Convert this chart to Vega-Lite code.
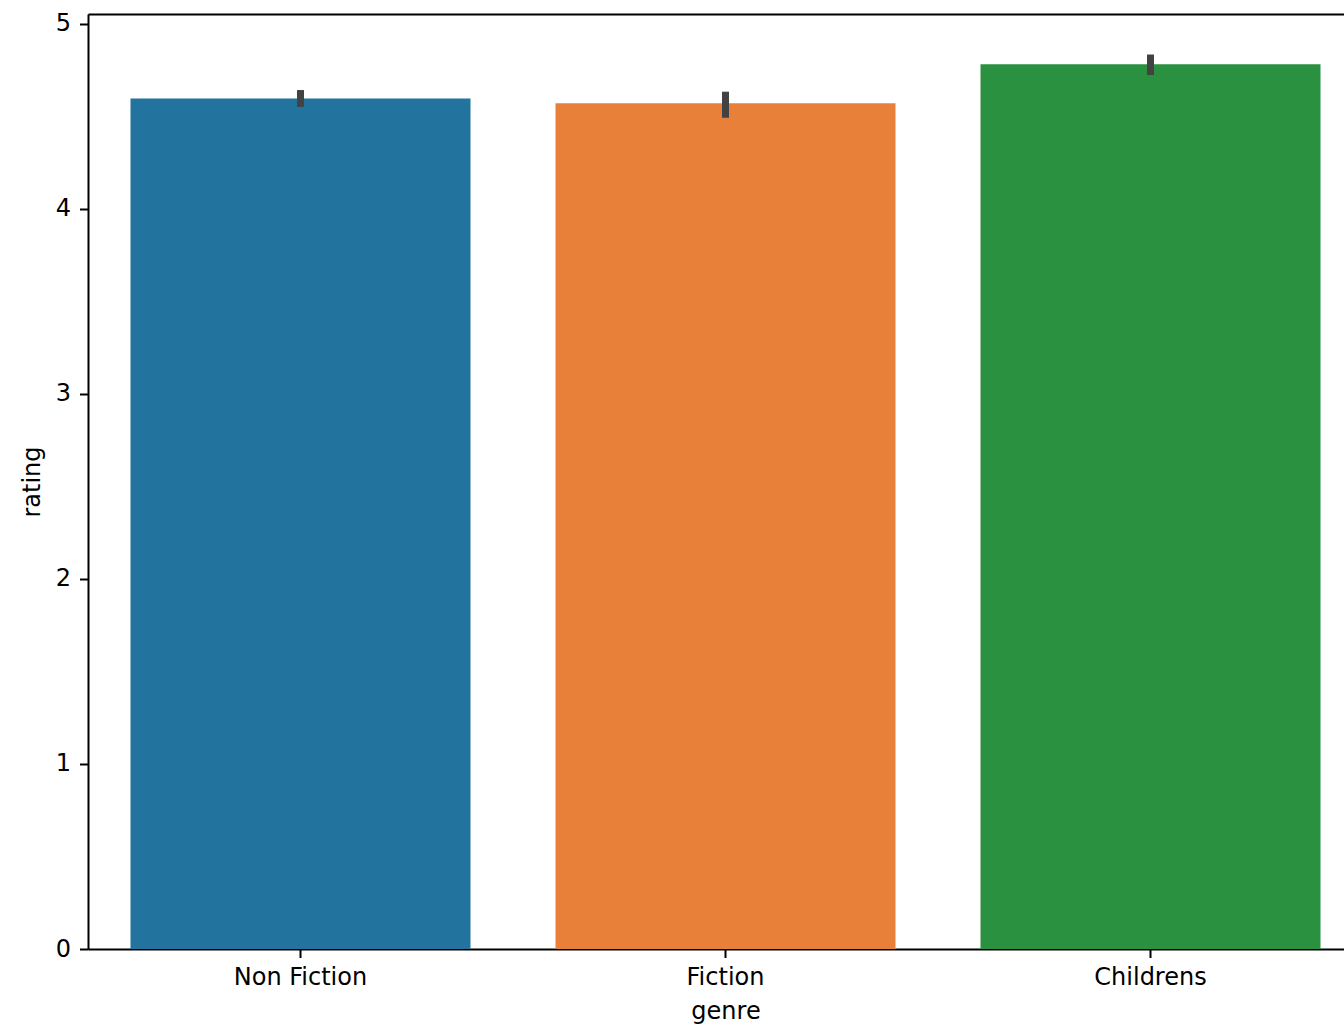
{
  "$schema": "https://vega.github.io/schema/vega-lite/v6.json",
  "autosize": "none",
  "padding": {"left": 88, "top": 14, "right": 0, "bottom": 76},
  "width": 1256,
  "height": 935,
  "background": "white",
  "config": {
    "font": "DejaVu Sans",
    "view": {"stroke": null},
    "axis": {
      "grid": false,
      "domainColor": "black",
      "domainWidth": 2,
      "tickColor": "black",
      "tickWidth": 2,
      "tickSize": 8.5,
      "labelFont": "DejaVu Sans",
      "labelFontSize": 24,
      "labelColor": "black",
      "titleFont": "DejaVu Sans",
      "titleFontSize": 24,
      "titleFontWeight": "normal",
      "titleColor": "black"
    }
  },
  "data": {
    "values": [
      {"genre": "Non Fiction", "rating": 4.597, "ci_low": 4.552, "ci_high": 4.643},
      {"genre": "Fiction", "rating": 4.571, "ci_low": 4.493, "ci_high": 4.634},
      {"genre": "Childrens", "rating": 4.782, "ci_low": 4.724, "ci_high": 4.835}
    ]
  },
  "layer": [
    {
      "mark": {"type": "bar"},
      "encoding": {
        "x": {
          "field": "genre",
          "type": "nominal",
          "sort": null,
          "scale": {"range": [0, 1275], "paddingInner": 0.2, "paddingOuter": 0.1},
          "axis": {"labelAngle": 0, "labelPadding": 8, "title": "genre", "titlePadding": 10, "orient": "bottom"}
        },
        "y": {
          "field": "rating",
          "type": "quantitative",
          "scale": {"domain": [0, 5.054], "nice": false, "zero": true},
          "axis": {"values": [0, 1, 2, 3, 4, 5], "format": "d", "labelPadding": 9, "title": "rating", "titlePadding": 11}
        },
        "color": {
          "field": "genre",
          "type": "nominal",
          "sort": null,
          "scale": {"domain": ["Non Fiction", "Fiction", "Childrens"], "range": ["#22749f", "#e9803a", "#29913f"]},
          "legend": null
        }
      }
    },
    {
      "mark": {"type": "rule", "color": "#424242", "strokeWidth": 7},
      "encoding": {
        "x": {
          "field": "genre",
          "type": "nominal",
          "sort": null,
          "axis": {"orient": "top", "labels": false, "ticks": false, "title": null}
        },
        "y": {"field": "ci_low", "type": "quantitative"},
        "y2": {"field": "ci_high"}
      }
    }
  ],
  "resolve": {"axis": {"x": "independent"}}
}
